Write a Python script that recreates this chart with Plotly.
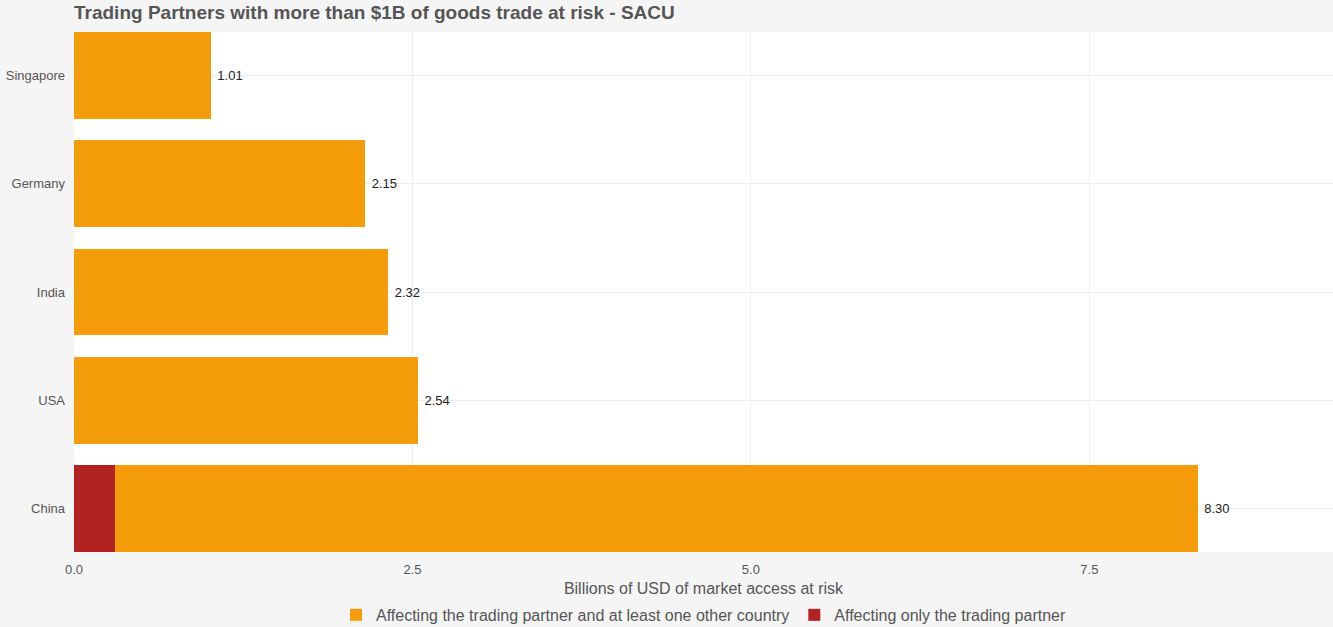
import plotly.graph_objects as go

countries = ["China", "USA", "India", "Germany", "Singapore"]
only_partner = [0.30, 0.0, 0.0, 0.0, 0.0]
partner_and_others = [8.00, 2.54, 2.32, 2.15, 1.01]
totals = [8.30, 2.54, 2.32, 2.15, 1.01]
x_ticks = [0.0, 2.5, 5.0, 7.5]
x_tick_labels = ["0.0", "2.5", "5.0", "7.5"]

ORANGE = "#f59c0a"
RED = "#b22222"

fig = go.Figure()
fig.add_trace(go.Bar(
    y=countries, x=only_partner, orientation="h",
    name="Affecting only the trading partner",
    marker=dict(color=RED, line=dict(width=0)),
    legendrank=2, hoverinfo="x+y",
))
fig.add_trace(go.Bar(
    y=countries, x=partner_and_others, orientation="h",
    name="Affecting the trading partner and at least one other country",
    marker=dict(color=ORANGE, line=dict(width=0)),
    text=["\u00a0" + f"{t:.2f}" for t in totals], textposition="outside",
    textfont=dict(size=13, color="#222222"), cliponaxis=False,
    legendrank=1, hoverinfo="x+y",
))

fig.update_layout(
    barmode="stack",
    bargap=0.2,
    width=1333, height=627,
    paper_bgcolor="#f5f5f5",
    plot_bgcolor="#ffffff",
    font=dict(family="Liberation Sans, Arial, sans-serif", color="#555555", size=13),
    margin=dict(l=74, r=0, t=32, b=75, autoexpand=False),
    title=dict(
        text="<b>Trading Partners with more than $1B of goods trade at risk - SACU</b>",
        x=74 / 1333, xanchor="left", y=1 - 12 / 627, yanchor="middle",
        font=dict(size=19, color="#555555"),
    ),
    xaxis=dict(
        range=[0, 9.3], tickvals=x_ticks, ticktext=x_tick_labels,
        showgrid=True, gridcolor="#eeeeee", zeroline=False,
        title=dict(text="Billions of USD of market access at risk",
                   font=dict(size=16, color="#555555"), standoff=6),
        tickfont=dict(size=13, color="#555555"),
        ticks="", automargin=False, ticklabelstandoff=8,
    ),
    yaxis=dict(
        range=[-0.4, 4.4], showgrid=True, gridcolor="#eeeeee",
        tickfont=dict(size=13, color="#555555"), ticks="",
        automargin=False, ticklabelstandoff=8,
    ),
    legend=dict(
        orientation="h", x=0.5, xanchor="center", y=-0.121, yanchor="middle",
        traceorder="normal",
        font=dict(size=16, color="#555555"), bgcolor="rgba(0,0,0,0)",
    ),
    showlegend=True,
)

fig.write_html("out.html")
